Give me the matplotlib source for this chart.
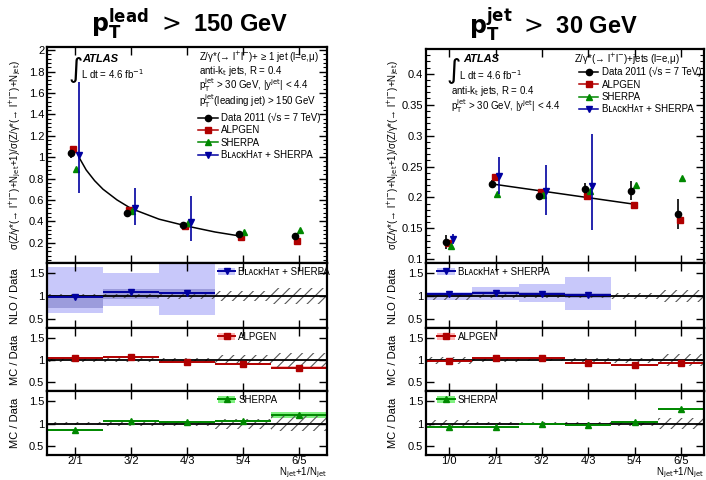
import matplotlib
matplotlib.use('Agg')
import matplotlib.pyplot as plt
from matplotlib.lines import Line2D
from matplotlib.patches import Patch
import numpy as np

plt.rcParams['font.family'] = ['Liberation Sans', 'DejaVu Sans']
plt.rcParams['mathtext.fontset'] = 'dejavusans'
plt.rcParams['hatch.linewidth'] = 0.8

# ---------------- left: leading jet pT > 150 GeV ----------------
lead_cats = ['2/1', '3/2', '4/3', '5/4', '6/5']
lead_data = [1.04, 0.48, 0.37, 0.28, 0.265]
lead_data_err = [0.05, 0.02, 0.015, 0.015, 0.03]
lead_alpgen = [1.08, 0.51, 0.355, 0.255, 0.22]
lead_sherpa = [0.89, 0.50, 0.38, 0.30, 0.32]
lead_bh = [1.02, 0.52, 0.39]
lead_bh_lo = [0.66, 0.37, 0.22]
lead_bh_hi = [1.70, 0.71, 0.64]
lead_fit_x = [1.07, 1.2, 1.35, 1.5, 1.75, 2.0, 2.5, 3.0, 3.5, 3.95]
lead_fit_y = [1.00, 0.88, 0.78, 0.70, 0.60, 0.52, 0.42, 0.355, 0.30, 0.262]

lead_bh_ratio = [0.98, 1.09, 1.07]
lead_bh_band_lo = [0.64, 0.79, 0.59]
lead_bh_band_hi = [1.64, 1.50, 1.75]
lead_bh_inner_lo = [0.74, 0.93, 1.02]
lead_bh_inner_hi = [1.02, 1.15, 1.16]
lead_alpgen_ratio = [1.04, 1.065, 0.96, 0.905, 0.83]
lead_alpgen_unc = [0.02, 0.02, 0.02, 0.02, 0.03]
lead_sherpa_ratio = [0.855, 1.05, 1.03, 1.06, 1.195]
lead_sherpa_unc = [0.01, 0.01, 0.01, 0.02, 0.065]
lead_data_unc = [0.04, 0.05, 0.06, 0.11, 0.17]

# ---------------- right: jet pT > 30 GeV ----------------
jet_cats = ['1/0', '2/1', '3/2', '4/3', '5/4', '6/5']
jet_data = [0.128, 0.222, 0.203, 0.214, 0.211, 0.173]
jet_data_err = [0.012, 0.007, 0.006, 0.010, 0.015, 0.024]
jet_alpgen = [0.127, 0.233, 0.208, 0.202, 0.187, 0.163]
jet_sherpa = [0.121, 0.206, 0.204, 0.211, 0.220, 0.231]
jet_bh = [0.133, 0.234, 0.210, 0.218]
jet_bh_lo = [0.125, 0.205, 0.172, 0.148]
jet_bh_hi = [0.141, 0.265, 0.252, 0.302]
jet_fit_x = [2.0, 5.0]
jet_fit_y = [0.221, 0.189]

jet_bh_ratio = [1.04, 1.07, 1.05, 1.03]
jet_bh_band_lo = [0.92, 0.91, 0.87, 0.70]
jet_bh_band_hi = [1.10, 1.20, 1.27, 1.43]
jet_bh_inner_lo = [0.99, 1.00, 0.98, 0.97]
jet_bh_inner_hi = [1.07, 1.11, 1.09, 1.06]
jet_alpgen_ratio = [0.99, 1.05, 1.04, 0.93, 0.88, 0.94]
jet_alpgen_unc = [0.02, 0.02, 0.02, 0.02, 0.02, 0.02]
jet_sherpa_ratio = [0.93, 0.92, 0.99, 0.96, 1.04, 1.33]
jet_sherpa_unc = [0.01, 0.01, 0.01, 0.01, 0.02, 0.03]
jet_data_unc = [0.08, 0.04, 0.03, 0.04, 0.06, 0.13]

C_DATA = 'black'
C_ALP = '#b00000'
C_SHE = '#008800'
C_BH = '#0000a0'
C_ALP_L = '#ffb4b4'
C_SHE_L = '#80f080'
C_BH_L = '#c8c8fa'
C_BH_M = '#9c9cdc'

BH_NAME = 'B\u029f\u1d00\u1d04\u1d0bH\u1d00\u1d1b + SHERPA'
FS = 7

W, H = 706, 480
fig = plt.figure(figsize=(W / 100, H / 100), dpi=100)


def px_axes(x0, x1, y0, y1):
    return fig.add_axes([x0 / W, 1 - y1 / H, (x1 - x0) / W, (y1 - y0) / H])


def style(ax, n):
    ax.set_xlim(0.5, n + 0.5)
    ax.set_xticks(np.arange(1, n + 1))
    ax.tick_params(which='both', direction='in', top=True, right=True, labelsize=8)
    ax.tick_params(which='major', length=6, width=1, pad=2)
    ax.tick_params(which='minor', length=3, width=0.8)
    ax.tick_params(axis='x', pad=1)
    for s in ax.spines.values():
        s.set_linewidth(1.6)


def draw_main(ax, n, offs, data, derr, alp, she, bh, bh_lo, bh_hi, fit_x, fit_y):
    x = np.arange(1, n + 1)
    nb = len(bh)
    xb = x[:nb] + offs[3]
    ax.plot(fit_x, fit_y, color='black', lw=1.1)
    ax.errorbar(x + offs[0], data, yerr=derr, fmt='o', color=C_DATA, ms=4.5, elinewidth=1.2, capsize=0)
    ax.plot(x + offs[1], alp, 's', color=C_ALP, ms=4.5)
    ax.plot(x + offs[2], she, '^', color=C_SHE, ms=4.5)
    ax.errorbar(xb, bh, yerr=[np.array(bh) - np.array(bh_lo), np.array(bh_hi) - np.array(bh)],
                fmt='v', color=C_BH, ms=4.5, elinewidth=1.2, capsize=0)
    style(ax, n)
    ax.tick_params(labelbottom=False)


def draw_ratio(ax, n, vals, color, light, unc, data_unc, inner=None, lo=None, hi=None, marker='s'):
    x = np.arange(1, n + 1)
    nv = len(vals)
    xv = x[:nv]
    v = np.array(vals)
    if lo is not None:
        ax.bar(xv, np.array(hi) - np.array(lo), bottom=lo, width=1, color=light, linewidth=0)
        ax.bar(xv, np.array(inner[1]) - np.array(inner[0]), bottom=inner[0], width=1, color=C_BH_M, linewidth=0)
    else:
        u = np.array(unc)
        ax.bar(xv, 2 * u, bottom=v - u, width=1, color=light, linewidth=0)
    du = np.array(data_unc)
    ax.bar(x, 2 * du, bottom=1 - du, width=1, facecolor='none', edgecolor='#555555', hatch='///', linewidth=0)
    ax.axhline(1, color='black', lw=1.3)
    ax.hlines(v, xv - 0.5, xv + 0.5, color=color, lw=1.4)
    ax.plot(xv, v, marker, color=color, ms=4.5, ls='none')
    ax.set_ylim(0.3, 1.73)
    ax.set_yticks([0.5, 1, 1.5])
    ax.set_yticklabels(['0.5', '1', '1.5'])
    style(ax, n)


def ratio_legend(ax, label, color, light, marker, xa):
    h = (Patch(facecolor=light, edgecolor='none'),
         Line2D([], [], color=color, marker=marker, ms=4.5, lw=1.4))
    ax.legend([h], [label], loc='upper left', bbox_to_anchor=(xa, 0.99), frameon=False,
              fontsize=FS, handlelength=1.8, handletextpad=0.3, borderpad=0.3, borderaxespad=0)


def main_legend(ax, xa, ya):
    handles = [Line2D([], [], color=C_DATA, marker='o', ms=4.5, lw=1.1),
               Line2D([], [], color=C_ALP, marker='s', ms=4.5, lw=1.1),
               Line2D([], [], color=C_SHE, marker='^', ms=4.5, lw=1.1),
               Line2D([], [], color=C_BH, marker='v', ms=4.5, lw=1.1)]
    labels = ['Data 2011 (\u221as = 7 TeV)', 'ALPGEN', 'SHERPA', BH_NAME]
    ax.legend(handles, labels, loc='upper left', bbox_to_anchor=(xa, ya), frameon=False,
              fontsize=FS, handlelength=2.0, handletextpad=0.35, labelspacing=0.24,
              borderpad=0, borderaxespad=0)


ZLL = 'Z/\u03b3*(\u2192 l$^{+}$l$^{-}$)'
YLAB = ('\u03c3(Z/\u03b3*(\u2192 l$^{+}$l$^{-}$)+N$_{\mathrm{jet}}$+1)/'
        '\u03c3(Z/\u03b3*(\u2192 l$^{+}$l$^{-}$)+N$_{\mathrm{jet}}$)')
XLAB = r'N$_{\mathrm{jet}}$+1/N$_{\mathrm{jet}}$'
LUMI = r'L dt = 4.6 fb$^{-1}$'


def atlas_block(ax, x_int, y_int, x_lumi, y_lumi, x_atlas, y_atlas):
    ax.text(x_atlas, y_atlas, 'ATLAS', transform=ax.transAxes, fontsize=8, weight='bold',
            style='italic', va='center')
    ax.text(x_int, y_int, r'$\int$', transform=ax.transAxes, fontsize=14, ha='center', va='center')
    ax.text(x_lumi, y_lumi, LUMI, transform=ax.transAxes, fontsize=FS, va='center')


# ================= left column =================
nl = len(lead_cats)
offs_l = [-0.08, -0.035, 0.02, 0.07]
axL = px_axes(47, 327, 47, 263)
draw_main(axL, nl, offs_l, lead_data, lead_data_err, lead_alpgen, lead_sherpa,
          lead_bh, lead_bh_lo, lead_bh_hi, lead_fit_x, lead_fit_y)
axL.set_ylim(0.01, 2.03)
axL.set_yticks(np.arange(0.2, 2.01, 0.2))
axL.set_yticklabels(['%g' % round(v, 1) for v in np.arange(0.2, 2.01, 0.2)])
axL.set_yticks(np.arange(0.04, 2.02, 0.04), minor=True)
atlas_block(axL, 0.1, 0.893, 0.12, 0.875, 0.125, 0.944)
axL.text(0.543, 0.953, ZLL + '+ \u2265 1 jet (l=e,\u03bc)', transform=axL.transAxes, fontsize=FS, va='center')
axL.text(0.543, 0.888, r'anti-k$_{\mathrm{t}}$ jets, R = 0.4', transform=axL.transAxes, fontsize=FS, va='center')
axL.text(0.543, 0.822, r'p$_{\mathrm{T}}^{\mathrm{jet}}$ > 30 GeV, |y$^{\mathrm{jet}}$| < 4.4',
         transform=axL.transAxes, fontsize=FS, va='center')
axL.text(0.543, 0.75, r'p$_{\mathrm{T}}^{\mathrm{jet}}$(leading jet) > 150 GeV',
         transform=axL.transAxes, fontsize=FS, va='center')
main_legend(axL, 0.54, 0.695)

rL1 = px_axes(47, 327, 263, 328)
draw_ratio(rL1, nl, lead_bh_ratio, C_BH, C_BH_L, None, lead_data_unc,
           inner=(lead_bh_inner_lo, lead_bh_inner_hi), lo=lead_bh_band_lo, hi=lead_bh_band_hi, marker='v')
ratio_legend(rL1, BH_NAME, C_BH, C_BH_L, 'v', 0.6)
rL1.tick_params(labelbottom=False)
rL2 = px_axes(47, 327, 328, 391)
draw_ratio(rL2, nl, lead_alpgen_ratio, C_ALP, C_ALP_L, lead_alpgen_unc, lead_data_unc)
ratio_legend(rL2, 'ALPGEN', C_ALP, C_ALP_L, 's', 0.6)
rL2.tick_params(labelbottom=False)
rL3 = px_axes(47, 327, 391, 455)
draw_ratio(rL3, nl, lead_sherpa_ratio, C_SHE, C_SHE_L, lead_sherpa_unc, lead_data_unc, marker='^')
ratio_legend(rL3, 'SHERPA', C_SHE, C_SHE_L, '^', 0.6)
rL3.set_xticklabels(lead_cats)

# ================= right column =================
nj = len(jet_cats)
offs_r = [-0.07, -0.02, 0.03, 0.08]
axR = px_axes(426, 704, 49, 263)
draw_main(axR, nj, offs_r, jet_data, jet_data_err, jet_alpgen, jet_sherpa,
          jet_bh, jet_bh_lo, jet_bh_hi, jet_fit_x, jet_fit_y)
axR.set_ylim(0.094, 0.44)
axR.set_yticks(np.arange(0.1, 0.401, 0.05))
axR.set_yticklabels(['%g' % round(v, 2) for v in np.arange(0.1, 0.401, 0.05)])
axR.set_yticks(np.arange(0.1, 0.44, 0.01), minor=True)
atlas_block(axR, 0.1, 0.897, 0.12, 0.88, 0.133, 0.953)
axR.text(0.09, 0.806, r'anti-k$_{\mathrm{t}}$ jets, R = 0.4', transform=axR.transAxes, fontsize=FS, va='center')
axR.text(0.09, 0.732, r'p$_{\mathrm{T}}^{\mathrm{jet}}$ > 30 GeV, |y$^{\mathrm{jet}}$| < 4.4',
         transform=axR.transAxes, fontsize=FS, va='center')
axR.text(0.532, 0.949, ZLL + '+jets (l=e,\u03bc)', transform=axR.transAxes, fontsize=FS, va='center')
main_legend(axR, 0.55, 0.915)

rR1 = px_axes(426, 704, 263, 328)
draw_ratio(rR1, nj, jet_bh_ratio, C_BH, C_BH_L, None, jet_data_unc,
           inner=(jet_bh_inner_lo, jet_bh_inner_hi), lo=jet_bh_band_lo, hi=jet_bh_band_hi, marker='v')
ratio_legend(rR1, BH_NAME, C_BH, C_BH_L, 'v', 0.03)
rR1.tick_params(labelbottom=False)
rR2 = px_axes(426, 704, 328, 391)
draw_ratio(rR2, nj, jet_alpgen_ratio, C_ALP, C_ALP_L, jet_alpgen_unc, jet_data_unc)
ratio_legend(rR2, 'ALPGEN', C_ALP, C_ALP_L, 's', 0.03)
rR2.tick_params(labelbottom=False)
rR3 = px_axes(426, 704, 391, 455)
draw_ratio(rR3, nj, jet_sherpa_ratio, C_SHE, C_SHE_L, jet_sherpa_unc, jet_data_unc, marker='^')
ratio_legend(rR3, 'SHERPA', C_SHE, C_SHE_L, '^', 0.03)
rR3.set_xticklabels(jet_cats)

# ================= labels and titles =================
for xp in (15, 393):
    fig.text(xp / W, 1 - 155 / H, YLAB, rotation=90, ha='center', va='center', fontsize=7)
    fig.text(xp / W, 1 - 296 / H, 'NLO / Data', rotation=90, ha='center', va='center', fontsize=8)
    fig.text(xp / W, 1 - 360 / H, 'MC / Data', rotation=90, ha='center', va='center', fontsize=8)
    fig.text(xp / W, 1 - 423 / H, 'MC / Data', rotation=90, ha='center', va='center', fontsize=8)
fig.text(327 / W, 1 - 479.5 / H, XLAB, ha='right', va='bottom', fontsize=7)
fig.text(704 / W, 1 - 479.5 / H, XLAB, ha='right', va='bottom', fontsize=7)

fig.text(190 / W, 1 - 24 / H, r'$\mathbf{p}_{\mathbf{T}}^{\mathbf{lead}}\ >\ $150 GeV',
         ha='center', va='center', fontsize=17, weight='bold')
fig.text(553 / W, 1 - 24 / H, r'$\mathbf{p}_{\mathbf{T}}^{\mathbf{jet}}\ >\ $30 GeV',
         ha='center', va='center', fontsize=17, weight='bold')

fig.savefig('out.png', dpi=100)
